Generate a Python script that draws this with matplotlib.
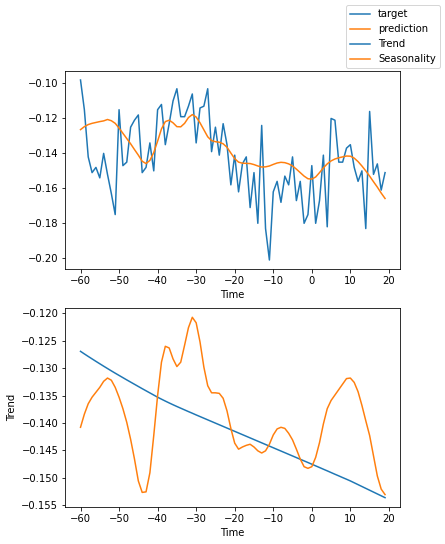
import numpy as np
from matplotlib import pyplot as plt

# time axis shared by both panels
time = np.arange(-60, 20)

target = [
    -0.098, -0.115, -0.142, -0.151, -0.148, -0.154, -0.140, -0.152, -0.163, -0.175,
    -0.115, -0.147, -0.145, -0.125, -0.121, -0.118, -0.151, -0.148, -0.134, -0.150,
    -0.115, -0.112, -0.135, -0.123, -0.110, -0.103, -0.119, -0.119, -0.113, -0.106,
    -0.134, -0.114, -0.113, -0.103, -0.139, -0.125, -0.141, -0.123, -0.135, -0.158,
    -0.141, -0.162, -0.146, -0.142, -0.171, -0.151, -0.180, -0.124, -0.183, -0.201,
    -0.162, -0.156, -0.168, -0.153, -0.158, -0.142, -0.167, -0.156, -0.180, -0.175,
    -0.147, -0.180, -0.167, -0.141, -0.182, -0.120, -0.121, -0.145, -0.145, -0.137,
    -0.135, -0.148, -0.156, -0.150, -0.183, -0.116, -0.152, -0.146, -0.161, -0.151,
]

prediction = [
    -0.1264, -0.1247, -0.1235, -0.1228, -0.1223, -0.1218, -0.1214, -0.1206, -0.1213, -0.1228,
    -0.1255, -0.1285, -0.1315, -0.1345, -0.1378, -0.1410, -0.1445, -0.1458, -0.1440, -0.1395,
    -0.1330, -0.1260, -0.1218, -0.1210, -0.1225, -0.1247, -0.1248, -0.1228, -0.1195, -0.1178,
    -0.1192, -0.1225, -0.1265, -0.1305, -0.1327, -0.1333, -0.1336, -0.1345, -0.1365, -0.1398,
    -0.1430, -0.1450, -0.1456, -0.1457, -0.1458, -0.1464, -0.1472, -0.1478, -0.1477, -0.1472,
    -0.1463, -0.1455, -0.1451, -0.1453, -0.1460, -0.1472, -0.1490, -0.1510, -0.1530, -0.1545,
    -0.1547, -0.1535, -0.1510, -0.1483, -0.1460, -0.1443, -0.1432, -0.1425, -0.1420, -0.1415,
    -0.1416, -0.1427, -0.1447, -0.1472, -0.1500, -0.1530, -0.1562, -0.1593, -0.1627, -0.1658,
]

trend = [
    -0.12692, -0.12739, -0.12785, -0.12830, -0.12875, -0.12919, -0.12963, -0.13006, -0.13049, -0.13091,
    -0.13132, -0.13173, -0.13214, -0.13254, -0.13294, -0.13334, -0.13374, -0.13413, -0.13452, -0.13491,
    -0.13530, -0.13566, -0.13601, -0.13635, -0.13668, -0.13700, -0.13731, -0.13762, -0.13793, -0.13823,
    -0.13854, -0.13884, -0.13914, -0.13944, -0.13974, -0.14004, -0.14034, -0.14064, -0.14094, -0.14124,
    -0.14154, -0.14184, -0.14214, -0.14244, -0.14274, -0.14304, -0.14334, -0.14364, -0.14394, -0.14424,
    -0.14454, -0.14484, -0.14514, -0.14544, -0.14574, -0.14604, -0.14634, -0.14664, -0.14694, -0.14724,
    -0.14754, -0.14785, -0.14815, -0.14846, -0.14876, -0.14907, -0.14938, -0.14968, -0.14999, -0.15029,
    -0.15060, -0.15094, -0.15128, -0.15162, -0.15196, -0.15230, -0.15264, -0.15298, -0.15332, -0.15366,
]

seasonality = [
    -0.1408, -0.1384, -0.1365, -0.1353, -0.1344, -0.1335, -0.1324, -0.1318, -0.1322, -0.1335,
    -0.1353, -0.1374, -0.1399, -0.1430, -0.1466, -0.1506, -0.1527, -0.1526, -0.1491, -0.1423,
    -0.1350, -0.1289, -0.1260, -0.1263, -0.1283, -0.1297, -0.1289, -0.1258, -0.1226, -0.1207,
    -0.1217, -0.1252, -0.1298, -0.1332, -0.1345, -0.1345, -0.1346, -0.1355, -0.1378, -0.1410,
    -0.1437, -0.1448, -0.1444, -0.1441, -0.1439, -0.1444, -0.1451, -0.1455, -0.1451, -0.1439,
    -0.1422, -0.1411, -0.1408, -0.1410, -0.1419, -0.1431, -0.1448, -0.1466, -0.1480, -0.1483,
    -0.1480, -0.1463, -0.1436, -0.1402, -0.1374, -0.1359, -0.1349, -0.1339, -0.1329, -0.1319,
    -0.1318, -0.1326, -0.1343, -0.1368, -0.1396, -0.1423, -0.1460, -0.1497, -0.1521, -0.1531,
]

plt.rcParams['font.size'] = 10

fig = plt.figure(figsize=(445 / 72, 544 / 72), dpi=72)
ax1 = fig.add_axes([0.1467, 0.5055, 0.7528, 0.364])
ax2 = fig.add_axes([0.1467, 0.0686, 0.7528, 0.3647])

ax1.plot(time, target, color='C0', label='target')
ax1.plot(time, prediction, color='C1', label='prediction')
ax1.set_xlabel('Time')

ax2.plot(time, trend, color='C0', label='Trend')
ax2.plot(time, seasonality, color='C1', label='Seasonality')
ax2.set_xlabel('Time')
ax2.set_ylabel('Trend')

fig.legend(loc='upper right')

fig.savefig('out.png', dpi=72)
